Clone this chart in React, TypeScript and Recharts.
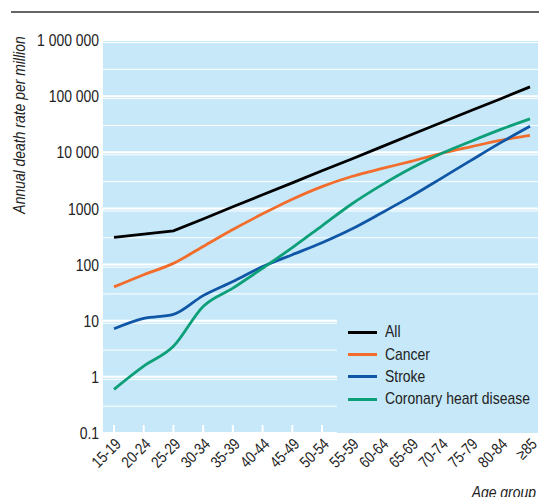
import React from 'react';
import { LineChart, Line, XAxis, YAxis, CartesianGrid, Legend } from 'recharts';

const ageGroups = [
	'15-19', '20-24', '25-29', '30-34', '35-39', '40-44', '45-49', '50-54',
	'55-59', '60-64', '65-69', '70-74', '75-79', '80-84', '≥85',
];

const allCauses = [305, 350, 400, 650, 1070, 1750, 2850, 4700, 7600, 12500, 20500, 33500, 55000, 89000, 146000];
const cancer = [40, 66, 105, 210, 420, 800, 1460, 2450, 3700, 5100, 6900, 9500, 12500, 16300, 20000];
const stroke = [7.2, 11, 13, 28, 50, 92, 150, 245, 430, 830, 1640, 3400, 7100, 14700, 29000];
const coronary = [0.6, 1.55, 3.5, 18, 38, 86, 200, 490, 1200, 2600, 5200, 9400, 15600, 25300, 39300];

const yTicks = [0.1, 1, 10, 100, 1000, 10000, 100000, 1000000];
const yTickLabels = ['0.1', '1', '10', '100', '1000', '10 000', '100 000', '1 000 000'];

// white minor grid lines at 2..9 of each decade
const minorGrid: number[] = [];
for (let e = -1; e < 6; e++) {
	for (let m = 2; m < 10; m++) minorGrid.push(m * Math.pow(10, e));
}

const series = [
	{ key: 'all', name: 'All', color: '#000000', type: 'linear' },
	{ key: 'cancer', name: 'Cancer', color: '#f26d2c', type: 'monotone' },
	{ key: 'stroke', name: 'Stroke', color: '#0f56a6', type: 'monotone' },
	{ key: 'coronary', name: 'Coronary heart disease', color: '#0c9f78', type: 'monotone' },
];

const data = ageGroups.map((age, i) => ({
	age,
	all: allCauses[i],
	cancer: cancer[i],
	stroke: stroke[i],
	coronary: coronary[i],
}));

const BG = '#c6e8f8';
const TEXT = '#222222';
// no narrow face installed, so Liberation Sans is squeezed to Arial Narrow proportions
const FONT = '"Liberation Sans", Arial, sans-serif';
const NARROW = 0.82;

const AgeTick = (props: any) => {
	const { x, y, payload } = props;
	const tx = x + 8;
	const ty = y + 12;
	return (
		<g>
			<line x1={x} y1={y} x2={x} y2={y - 8} stroke="#ffffff" strokeWidth={2} />
			<text
				transform={`translate(${tx}, ${ty}) rotate(-45) scale(${NARROW}, 1)`}
				textAnchor="end"
				fill={TEXT}
				fontSize={16}
				fontFamily={FONT}
			>
				{payload.value}
			</text>
		</g>
	);
};

const ValueTick = (props: any) => {
	const { x, y, payload } = props;
	return (
		<text
			transform={`translate(${x}, ${y}) scale(${NARROW}, 1)`}
			textAnchor="end"
			dy="0.36em"
			fill={TEXT}
			fontSize={17}
			fontFamily={FONT}
		>
			{yTickLabels[yTicks.indexOf(payload.value)]}
		</text>
	);
};

const LegendBox = () => (
	<div
		style={{
			background: BG,
			width: 201,
			height: 123,
			paddingTop: 11,
			boxSizing: 'border-box',
			fontFamily: FONT,
			fontSize: 17,
			color: TEXT,
		}}
	>
		{series.map((s) => (
			<div key={s.key} style={{ display: 'flex', alignItems: 'center', height: 22.4 }}>
				<div style={{ width: 29, height: 3, background: s.color, marginLeft: 11, marginRight: 8, flex: 'none' }} />
				<span
					style={{
						display: 'inline-block',
						whiteSpace: 'nowrap',
						transform: `scaleX(${NARROW})`,
						transformOrigin: 'left center',
					}}
				>
					{s.name}
				</span>
			</div>
		))}
	</div>
);

export default function App() {
	return (
		<div style={{ position: 'absolute', left: 0, top: 0, width: 539, height: 497, background: '#fff' }}>
			<LineChart
				width={539}
				height={497}
				data={data}
				margin={{ top: 40, right: 1, left: 0, bottom: 34 }}
			>
				<CartesianGrid
					vertical={false}
					yAxisId="minor"
					fill={BG}
					fillOpacity={1}
					stroke="#ffffff"
					strokeWidth={1}
				/>
				<CartesianGrid
					vertical={false}
					stroke="#ffffff"
					strokeWidth={2}
				/>
				<XAxis
					dataKey="age"
					axisLine={false}
					tickLine={false}
					tickSize={0}
					tickMargin={0}
					interval={0}
					height={30}
					padding={{ left: 11, right: 8 }}
					tick={<AgeTick />}
				/>
				<YAxis
					yAxisId="minor"
					scale="log"
					domain={[0.1, 1000000]}
					allowDataOverflow
					ticks={minorGrid}
					hide
				/>
				<YAxis
					scale="log"
					domain={[0.1, 1000000]}
					allowDataOverflow
					ticks={yTicks}
					axisLine={false}
					tickLine={false}
					tickSize={0}
					tickMargin={4}
					width={103}
					tick={<ValueTick />}
				/>
				<Legend
					layout="horizontal"
					verticalAlign="middle"
					content={<LegendBox />}
					wrapperStyle={{ left: 337, top: 310, width: 201, height: 123 }}
				/>
				{series.map((s) => (
					<Line
						key={s.key}
						type={s.type as any}
						dataKey={s.key}
						name={s.name}
						stroke={s.color}
						strokeWidth={2.8}
						dot={false}
						isAnimationActive={false}
					/>
				))}
			</LineChart>
			<svg
				width={539}
				height={497}
				style={{ position: 'absolute', left: 0, top: 0, pointerEvents: 'none' }}
			>
				<line x1={11} y1={12} x2={539} y2={12} stroke="#333333" strokeWidth={1.5} />
				<text
					transform={`translate(19, 125) rotate(-90) scale(${NARROW}, 1)`}
					textAnchor="middle"
					dominantBaseline="central"
					fontFamily={FONT}
					fontStyle="italic"
					fontSize={17}
					fill={TEXT}
				>
					Annual death rate per million
				</text>
				<text
					transform={`translate(536, 498) scale(${NARROW}, 1)`}
					textAnchor="end"
					fontFamily={FONT}
					fontStyle="italic"
					fontSize={17}
					fill={TEXT}
				>
					Age group
				</text>
			</svg>
		</div>
	);
}
